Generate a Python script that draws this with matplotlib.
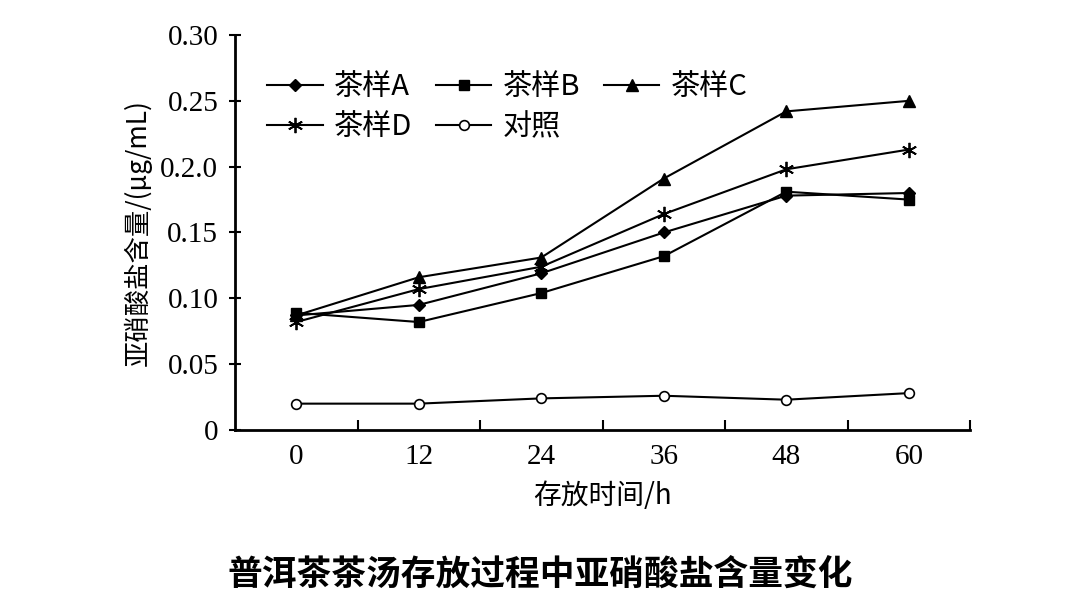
import matplotlib
matplotlib.use("Agg")
import matplotlib.pyplot as plt
from matplotlib.ticker import FixedLocator, FixedFormatter

# Data
hours = [0, 12, 24, 36, 48, 60]
tea_a = [0.087, 0.095, 0.119, 0.150, 0.178, 0.180]
tea_b = [0.089, 0.082, 0.104, 0.132, 0.181, 0.175]
tea_c = [0.087, 0.116, 0.131, 0.191, 0.242, 0.250]
tea_d = [0.082, 0.107, 0.124, 0.164, 0.198, 0.213]
control = [0.020, 0.020, 0.024, 0.026, 0.023, 0.028]

y_ticks = [0, 0.05, 0.10, 0.15, 0.20, 0.25, 0.30]
y_tick_labels = ["0", "0.05", "0.10", "0.15", "0.2.0", "0.25", "0.30"]

serif = ["Liberation Serif", "Noto Sans CJK SC"]
cjk = ["Noto Sans CJK SC", "Liberation Serif"]
plt.rcParams['font.family'] = serif

fig = plt.figure(figsize=(10.8, 6.08), dpi=100)
ax = fig.add_axes([0.2176, 0.2928, 0.6806, 0.6496])

line_kw = dict(color="black", linewidth=1.5)
ha, = ax.plot(hours, tea_a, marker="D", markersize=6, label="茶样A", **line_kw)
hb, = ax.plot(hours, tea_b, marker="s", markersize=7, label="茶样B", **line_kw)
hc, = ax.plot(hours, tea_c, marker="^", markersize=8, label="茶样C", **line_kw)
hd, = ax.plot(hours, tea_d, marker=(6, 2, 0), markersize=11, markeredgewidth=1.3, label="茶样D", **line_kw)
hk, = ax.plot(hours, control, marker="o", markersize=7, markerfacecolor="white",
              markeredgewidth=1.2, label="对照", **line_kw)

ax.set_xlim(-6, 66)
ax.set_ylim(0, 0.30)
ax.spines["top"].set_visible(False)
ax.spines["right"].set_visible(False)
ax.spines["left"].set_linewidth(2)
ax.spines["bottom"].set_linewidth(2)

# x labels sit between the tick marks
ax.xaxis.set_major_locator(FixedLocator([6, 18, 30, 42, 54, 66]))
ax.xaxis.set_major_formatter(FixedFormatter([]))
ax.xaxis.set_minor_locator(FixedLocator(hours))
ax.xaxis.set_minor_formatter(FixedFormatter([str(h) for h in hours]))
ax.tick_params(axis="x", which="major", direction="in", length=7, width=1.5, labelbottom=False)
ax.tick_params(axis="x", which="minor", length=0, pad=10, labelsize=21)

ax.yaxis.set_major_locator(FixedLocator(y_ticks))
ax.yaxis.set_major_formatter(FixedFormatter(y_tick_labels))
ax.tick_params(axis="y", direction="inout", length=8, width=1.5, pad=8, labelsize=21)

ax.set_xlabel("存放时间/h", fontsize=20, family=cjk, labelpad=8)
ax.set_ylabel("亚硝酸盐含量/(μg/mL)", fontsize=19, family=cjk, labelpad=6)

# legend fills column-wise, so order handles to read A B C / D 对照 across rows
order = [ha, hd, hb, hk, hc]
leg = ax.legend(handles=order, labels=[h.get_label() for h in order],
                loc="upper left", bbox_to_anchor=(0.02, 0.95), ncol=3, frameon=False,
                prop={"family": cjk, "size": 21}, handlelength=1.9, handletextpad=0.4,
                columnspacing=0.8, labelspacing=0.35, borderaxespad=0.2)

fig.text(0.5, 0.055, "普洱茶茶汤存放过程中亚硝酸盐含量变化", ha="center", va="center",
         fontsize=25, fontweight="bold", family=cjk)

fig.savefig("out.png", dpi=100)
